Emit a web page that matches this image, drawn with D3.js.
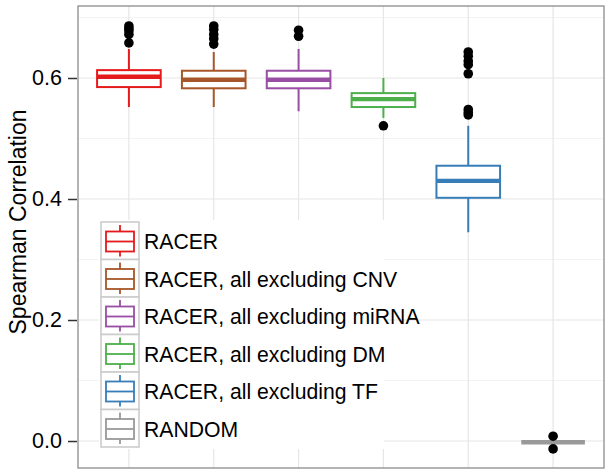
<!DOCTYPE html>
<html>
<head>
<meta charset="utf-8">
<script src="https://cdn.jsdelivr.net/npm/d3@7"></script>
<style>
  html, body { margin: 0; padding: 0; background: #fff; }
  svg { display: block; font-family: "Liberation Sans", Arial, Helvetica, sans-serif; }
</style>
</head>
<body>
<svg id="chart" width="610" height="475"></svg>
<script>
// ---- data ----
const categories = ["RACER", "RACER, all excluding CNV", "RACER, all excluding miRNA",
                    "RACER, all excluding DM", "RACER, all excluding TF", "RANDOM"];
const colors = ["#E41A1C", "#A65628", "#984EA3", "#4DAF4A", "#377EB8", "#999999"];
const whiskerLow  = [0.552, 0.552, 0.545, 0.534, 0.345, -0.002];
const q1          = [0.585, 0.583, 0.583, 0.552, 0.402, -0.002];
const medians     = [0.602, 0.597, 0.597, 0.565, 0.430, -0.002];
const q3          = [0.613, 0.612, 0.612, 0.575, 0.455, -0.002];
const whiskerHigh = [0.648, 0.643, 0.648, 0.600, 0.521, -0.002];
const outliers = [
  [0.686, 0.682, 0.678, 0.672, 0.658],
  [0.686, 0.680, 0.672, 0.665, 0.656],
  [0.679, 0.669],
  [0.521],
  [0.643, 0.636, 0.628, 0.622, 0.607, 0.548, 0.543, 0.539],
  [0.008, -0.013]
];
const yTicks = [0.0, 0.2, 0.4, 0.6];
const yMinor = [0.1, 0.3, 0.5, 0.7];
const yTitle = "Spearman Correlation";

// ---- layout ----
const svg = d3.select("#chart");
const panel = { left: 78, right: 604, top: 6, bottom: 468 };

const y = d3.scaleLinear().domain([-0.0446, 0.719]).range([panel.bottom, panel.top]);
const x = d3.scalePoint().domain(categories).range([panel.left, panel.right]).padding(0.6);
const boxW = x.step() * 0.75;

// panel background
svg.append("rect").attr("x", panel.left).attr("y", panel.top)
  .attr("width", panel.right - panel.left).attr("height", panel.bottom - panel.top)
  .attr("fill", "#fff");

// grid
const grid = svg.append("g");
grid.selectAll("line.minor").data(yMinor).join("line")
  .attr("x1", panel.left).attr("x2", panel.right)
  .attr("y1", d => y(d)).attr("y2", d => y(d))
  .attr("stroke", "#f3f3f3").attr("stroke-width", 1.2);
grid.selectAll("line.major").data(yTicks).join("line")
  .attr("x1", panel.left).attr("x2", panel.right)
  .attr("y1", d => y(d)).attr("y2", d => y(d))
  .attr("stroke", "#e6e6e6").attr("stroke-width", 1.2);
grid.selectAll("line.vert").data(categories).join("line")
  .attr("y1", panel.top).attr("y2", panel.bottom)
  .attr("x1", d => x(d)).attr("x2", d => x(d))
  .attr("stroke", "#e6e6e6").attr("stroke-width", 1.2);

// boxes
const boxes = svg.append("g").selectAll("g").data(categories).join("g");
boxes.each(function(c, i) {
  const g = d3.select(this);
  const cx = x(c);
  const col = colors[i];
  g.append("line").attr("x1", cx).attr("x2", cx)
    .attr("y1", y(whiskerHigh[i])).attr("y2", y(q3[i]))
    .attr("stroke", col).attr("stroke-width", 2);
  g.append("line").attr("x1", cx).attr("x2", cx)
    .attr("y1", y(q1[i])).attr("y2", y(whiskerLow[i]))
    .attr("stroke", col).attr("stroke-width", 2);
  g.append("rect").attr("x", cx - boxW / 2).attr("width", boxW)
    .attr("y", y(q3[i])).attr("height", Math.max(0, y(q1[i]) - y(q3[i])))
    .attr("fill", "#fff").attr("stroke", col).attr("stroke-width", 2);
  g.append("line").attr("x1", cx - boxW / 2).attr("x2", cx + boxW / 2)
    .attr("y1", y(medians[i])).attr("y2", y(medians[i]))
    .attr("stroke", col).attr("stroke-width", 4.4);
  g.selectAll("circle").data(outliers[i]).join("circle")
    .attr("cx", cx).attr("cy", d => y(d)).attr("r", 4.8).attr("fill", "#000");
});

// legend
const legend = svg.append("g");
const keyX = 101, keyTop = 222, keyW = 38, keyH = 37.5;
legend.append("rect").attr("x", keyX - 2).attr("y", keyTop - 2)
  .attr("width", 285).attr("height", keyH * categories.length + 4).attr("fill", "#fff");
const items = legend.selectAll("g").data(categories).join("g")
  .attr("transform", (d, i) => `translate(${keyX},${keyTop + i * keyH})`);
items.append("rect").attr("width", keyW).attr("height", keyH)
  .attr("fill", "#fff").attr("stroke", "#cccccc").attr("stroke-width", 1.6);
items.append("line").attr("x1", keyW / 2).attr("x2", keyW / 2).attr("y1", 3).attr("y2", keyH - 3)
  .attr("stroke", (d, i) => colors[i]).attr("stroke-width", 1.8);
items.append("rect").attr("x", 5).attr("y", 9.5).attr("width", keyW - 10).attr("height", 20)
  .attr("fill", "#fff").attr("stroke", (d, i) => colors[i]).attr("stroke-width", 1.8);
items.append("line").attr("x1", 5).attr("x2", keyW - 5).attr("y1", 19.5).attr("y2", 19.5)
  .attr("stroke", (d, i) => colors[i]).attr("stroke-width", 1.8);
items.append("text").attr("x", keyW + 5).attr("y", keyH / 2 + 1)
  .attr("dominant-baseline", "central")
  .attr("font-size", "21.2px").attr("fill", "#000").text(d => d);

// panel border
svg.append("rect").attr("x", panel.left).attr("y", panel.top)
  .attr("width", panel.right - panel.left).attr("height", panel.bottom - panel.top)
  .attr("fill", "none").attr("stroke", "#8c8c8c").attr("stroke-width", 1.3);

// y axis
const yAxis = d3.axisLeft(y).tickValues(yTicks).tickFormat(d3.format(".1f"))
  .tickSize(9).tickPadding(6);
const ag = svg.append("g").attr("transform", `translate(${panel.left - 1},0)`).call(yAxis);
ag.select(".domain").remove();
ag.selectAll(".tick line").attr("stroke", "#333").attr("stroke-width", 1.5);
ag.selectAll(".tick text").attr("font-size", "21.5px").attr("fill", "#000")
  .attr("font-family", "'Liberation Sans', Arial, sans-serif");

// y title
svg.append("text")
  .attr("transform", `translate(26,222) rotate(-90)`)
  .attr("text-anchor", "middle")
  .attr("font-size", "23px").attr("fill", "#000")
  .text(yTitle);
</script>
</body>
</html>
